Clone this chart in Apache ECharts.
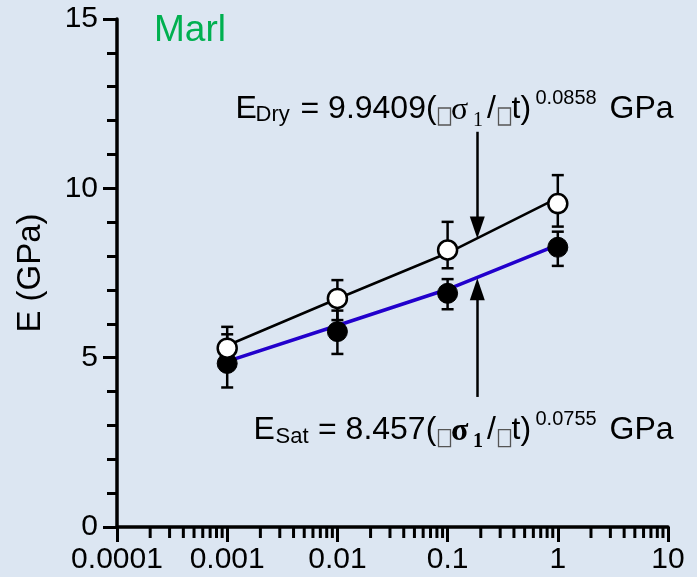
<!DOCTYPE html>
<html>
<head>
<meta charset="utf-8">
<script src="https://cdn.jsdelivr.net/npm/echarts@6/dist/echarts.min.js"></script>
<style>
  html, body { margin: 0; padding: 0; background: #dce6f2; }
  #chart { width: 697px; height: 577px; }
</style>
</head>
<body>
<div id="chart"></div>
<script>
// Loading rate (x) and Young's modulus E (GPa) for marl, dry and saturated
const xTickLabels = ['0.0001', '0.001', '0.01', '0.1', '1', '10'];
const rates   = [0.001, 0.01, 0.1, 1];
const dryE    = [5.28, 6.75, 8.18, 9.55];
const dryHigh = [5.91, 7.29, 9.01, 10.39];
const dryLow  = [4.70, 6.11, 7.64, 8.87];
const satE    = [4.83, 5.77, 6.90, 8.26];
const satHigh = [5.69, 6.39, 7.32, 8.72];
const satLow  = [4.12, 5.11, 6.43, 7.71];
// Power-law fit curves
const dryFit  = [5.36, 6.74, 8.09, 9.72];
const satFit  = [4.89, 5.95, 7.02, 8.33];
// Arrows pointing from the equations to the fits (end = centre of the head)
const dryArrow = { x: 0.186, from: 11.67, to: 8.84 };
const satArrow = { x: 0.186, from: 3.84, to: 7.02 };
// Minor tick multipliers within each decade of the log axis
const minorMult = [2, 3, 4, 5, 6, 7, 8, 9];
const decades = [0.0001, 0.001, 0.01, 0.1, 1];

const SANS = 'Liberation Sans';
const SERIF = 'Liberation Serif';

const zip = (xs, ys) => xs.map((x, i) => [x, ys[i]]);
const errData = (lo, hi) => rates.map((x, i) => [x, lo[i], hi[i]]);
const minorTicks = [];
decades.forEach(d => minorMult.forEach(m => minorTicks.push([d * m])));

function errorBarItem(params, api) {
  const x = api.value(0);
  const lo = api.coord([x, api.value(1)]);
  const hi = api.coord([x, api.value(2)]);
  const half = 6;
  const st = { stroke: '#000', lineWidth: 2.5 };
  return {
    type: 'group',
    children: [
      { type: 'line', shape: { x1: lo[0], y1: lo[1], x2: hi[0], y2: hi[1] }, style: st },
      { type: 'line', shape: { x1: lo[0] - half, y1: lo[1], x2: lo[0] + half, y2: lo[1] }, style: st },
      { type: 'line', shape: { x1: hi[0] - half, y1: hi[1], x2: hi[0] + half, y2: hi[1] }, style: st }
    ]
  };
}

function minorTickItem(params, api) {
  const p = api.coord([api.value(0), 0]);
  return {
    type: 'line',
    shape: { x1: p[0], y1: p[1], x2: p[0], y2: p[1] + 11 },
    style: { stroke: '#000', lineWidth: 3 }
  };
}

// Text piece placed by its baseline (canvas 'middle' sits ~0.35 em above it)
function piece(text, x, baseline, size, family, weight) {
  const k = family === SERIF ? 0.3375 : 0.3465;
  return {
    type: 'text', x: x, y: baseline - k * size, z: 10,
    style: {
      text: text, fontSize: size, fontFamily: family || SANS, fontWeight: weight || 'normal',
      fill: '#000', align: 'left', verticalAlign: 'middle'
    }
  };
}
// Empty glyph box of the symbol font
function glyphBox(x, top) {
  return {
    type: 'rect', z: 10,
    shape: { x: x, y: top, width: 12, height: 17 },
    style: { fill: 'none', stroke: '#555', lineWidth: 1.3 }
  };
}
// Fit equation: E_name = coef(□σ1/□t)^exp GPa
function equation(name, rest, exp, eX, subX, eqX, base, bold) {
  const w = bold ? 'bold' : 'normal';
  return [
    piece('E', eX, base, 32),
    piece(name, subX, base + 3, 22),
    piece(rest, eqX, base, 32),
    glyphBox(438.5, base - 12),
    piece('σ', 451, base + 1, 32, SERIF, w),
    piece('1', 473, base + 7, 20, SERIF, w),
    piece('/', 487, base, 32),
    glyphBox(498.5, base - 12),
    piece('t)', 511.5, base, 32),
    piece(exp, 535.5, base - 15, 20),
    piece('GPa', 609.5, base, 32)
  ];
}

const chart = echarts.init(document.getElementById('chart'));
chart.setOption({
  backgroundColor: '#dce6f2',
  animation: false,
  grid: { left: 117, right: 29, top: 19, bottom: 50, containLabel: false },
  xAxis: {
    type: 'log',
    logBase: 10,
    min: 0.0001,
    max: 10,
    axisLine: { show: true, onZero: false, lineStyle: { color: '#000', width: 3.5 } },
    axisTick: { show: true, inside: false, length: 15, lineStyle: { color: '#000', width: 3 } },
    axisLabel: {
      margin: 18, fontSize: 30, fontFamily: SANS, color: '#000',
      formatter: v => xTickLabels[Math.round(Math.log10(v)) + 4]
    },
    splitLine: { show: false }
  },
  yAxis: {
    type: 'value',
    min: 0,
    max: 15,
    interval: 5,
    name: 'E (GPa)',
    nameLocation: 'middle',
    nameGap: 70,
    nameTextStyle: { fontSize: 33, fontFamily: SANS, color: '#000' },
    axisLine: { show: true, lineStyle: { color: '#000', width: 3.5 } },
    axisTick: { show: true, inside: false, length: 14, lineStyle: { color: '#000', width: 3 } },
    minorTick: { show: true, splitNumber: 5, length: 10, lineStyle: { color: '#000', width: 3 } },
    axisLabel: { margin: 19, fontSize: 30, fontFamily: SANS, color: '#000' },
    splitLine: { show: false },
    minorSplitLine: { show: false }
  },
  graphic: [
    {
      type: 'text', x: 154, y: 30.5, z: 10,
      style: { text: 'Marl', fontSize: 37, fontFamily: SANS, fill: '#00b050', align: 'left', verticalAlign: 'middle' }
    }
  ]
    .concat(equation('Dry', '= 9.9409(', '0.0858', 235.5, 255.5, 300.5, 120, false))
    .concat(equation('Sat', '= 8.457(', '0.0755', 253.5, 275.5, 318, 441.7, true)),
  series: [
    {
      type: 'custom', name: 'minorX', renderItem: minorTickItem, data: minorTicks,
      clip: false, silent: true, z: 1
    },
    {
      type: 'line', name: 'Dry fit', data: zip(rates, dryFit), showSymbol: false,
      lineStyle: { color: '#000', width: 2.5 }, z: 2,
      markLine: {
        silent: true, symbol: ['none', 'triangle'], symbolSize: [15, 22],
        lineStyle: { color: '#000', width: 2.5, type: 'solid' },
        label: { show: false },
        data: [
          [{ coord: [dryArrow.x, dryArrow.from] }, { coord: [dryArrow.x, dryArrow.to] }],
          [{ coord: [satArrow.x, satArrow.from] }, { coord: [satArrow.x, satArrow.to] }]
        ]
      }
    },
    {
      type: 'line', name: 'Sat fit', data: zip(rates, satFit), showSymbol: false,
      lineStyle: { color: '#2200cc', width: 3.5 }, z: 2
    },
    {
      type: 'custom', name: 'Dry error', renderItem: errorBarItem, data: errData(dryLow, dryHigh), z: 3
    },
    {
      type: 'custom', name: 'Sat error', renderItem: errorBarItem, data: errData(satLow, satHigh), z: 3
    },
    {
      type: 'scatter', name: 'Saturated', data: zip(rates, satE), symbol: 'circle', symbolSize: 20,
      itemStyle: { color: '#000', borderColor: '#000', borderWidth: 1, opacity: 1 }, z: 4
    },
    {
      type: 'scatter', name: 'Dry', data: zip(rates, dryE), symbol: 'circle', symbolSize: 19,
      itemStyle: { color: '#fff', borderColor: '#000', borderWidth: 2.5, opacity: 1 }, z: 5
    }
  ]
});
</script>
</body>
</html>
